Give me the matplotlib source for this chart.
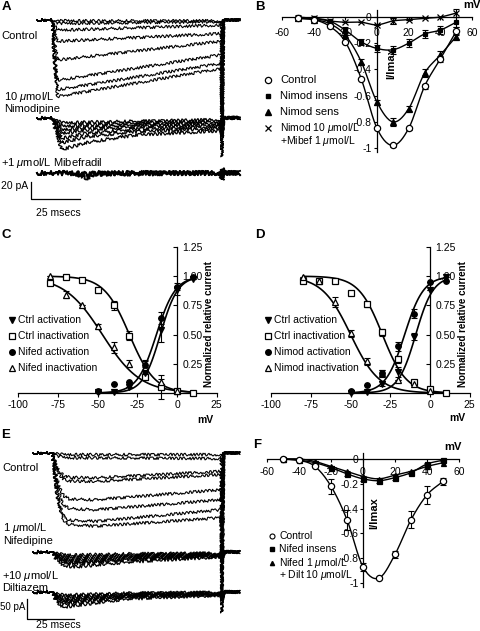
import numpy as np
import matplotlib
matplotlib.use('Agg')
import matplotlib.pyplot as plt
from matplotlib.lines import Line2D

plt.rcParams['font.family'] = ['Liberation Sans', 'DejaVu Sans']
plt.rcParams['mathtext.fontset'] = 'custom'
plt.rcParams['mathtext.rm'] = 'Liberation Sans'
plt.rcParams['mathtext.it'] = 'Liberation Sans:italic'
plt.rcParams['axes.unicode_minus'] = False

# ---------------- data ----------------
# Panel A traces (time ms, current pA)
a_t_ctrl = [0, 7.7, 9.0, 10.5, 94.0, 94.4, 95.2, 103.6]
a_ctrl_traces = [
    [0, 0, -1, -1, -1, -5, 0, 0],
    [0, 0, -2, -4, -2, -20, 0, 0],
    [0, 0, -7, -12, -6, -40, 0, 0],
    [0, 0, -15, -25, -16, -70, 0, 0],
    [0, 0, -28, -47, -25, -100, 0, 0],
    [0, 0, -43, -71, -41, -130, 0, 0],
    [0, 0, -49, -82, -51, -150, 0, 0],
    [0, 0, -54, -90, -57, -161, 0, 0],
]
a_t_nim = [0, 7.7, 9.5, 12.7, 25, 50, 94.0, 94.4, 95.2, 103.6]
a_nim_traces = [
    [0, 0, -2, -6, -5, -4, -2, -22, 0, 0],
    [0, 0, -4, -10, -8, -6, -4, -22, 0, 0],
    [0, 0, -6, -14, -11, -8, -6, -22, 0, 0],
    [0, 0, -7, -18, -14, -10, -8, -22, 0, 0],
    [0, 0, -10, -24, -18, -13, -10, -22, 0, 0],
    [0, 0, -12, -29, -22, -16, -12, -22, 0, 0],
    [0, 0, -15, -37, -29, -20, -15, -22, 0, 0],
]
a_t_mib = [0, 7.7, 20, 25, 30, 94.0, 94.4, 95.0, 103.6]
a_mib_traces = [
    [0, 0, 0, -6, 0, 0, -8, 0, 0],
    [0, 0, 0, -2, 0, 0, 6, 0, 0],
    [0, 0, -1, -1, -1, 0, -3, 0, 0],
]

# Panel B: I-V (mV, I/Imax)
iv_mv = [-50, -40, -30, -20, -10, 0, 10, 20, 30, 40, 50]
b_control = [-0.01, -0.02, -0.07, -0.19, -0.47, -0.85, -0.98, -0.85, -0.53, -0.32, -0.11]
b_control_err = [0, 0, 0, 0, 0, 0, 0.01, 0.01, 0.02, 0.02, 0.03]
b_insens = [0, -0.01, -0.03, -0.10, -0.19, -0.24, -0.25, -0.20, -0.13, -0.10, -0.04]
b_insens_err = [0, 0, 0, 0.02, 0.02, 0.03, 0.03, 0.03, 0.03, 0.03, 0.04]
b_sens = [-0.01, -0.02, -0.05, -0.14, -0.34, -0.65, -0.80, -0.70, -0.43, -0.29, -0.15]
b_sens_err = [0, 0, 0, 0, 0.02, 0.02, 0.03, 0.02, 0.03, 0.03, 0.02]
b_mibef = [-0.01, -0.01, -0.03, -0.04, -0.04, -0.06, -0.03, -0.02, -0.01, 0.0, 0.03]
b_mibef_err = [0, 0, 0, 0, 0, 0, 0.02, 0, 0, 0, 0.03]

# Panels C/D: steady-state activation / inactivation
act_mv = [-50, -40, -30, -20, -10, 0, 10]
inact_mv = [-80, -70, -60, -50, -40, -30, -20, -10, 0, 10]
c_ctrl_act = [0.01, 0.01, 0.05, 0.17, 0.54, 0.88, 0.98]
c_ctrl_act_err = [0, 0, 0, 0.05, 0.10, 0.04, 0]
c_nif_act = [0.02, 0.08, 0.09, 0.24, 0.64, 0.91, 0.99]
c_nif_act_err = [0, 0, 0, 0.04, 0.05, 0.03, 0]
c_ctrl_inact = [0.94, 0.99, 0.97, 0.88, 0.75, 0.49, 0.14, 0.05, 0.02, 0.0]
c_ctrl_inact_err = [0, 0, 0, 0.02, 0.04, 0.04, 0.03, 0.10, 0, 0]
c_nif_inact = [1.0, 0.84, 0.75, 0.57, 0.39, 0.25, 0.21, 0.09, 0.02]
c_nif_inact_err = [0, 0.03, 0, 0.02, 0.05, 0.03, 0.06, 0.03, 0]
# Boltzmann fit parameters (V1/2, k)
c_fit_ctrl_act = (-10.5, 5.5)
c_fit_nif_act = (-13.0, 6.0)
c_fit_ctrl_inact = (-30.0, 8.0)
c_fit_nif_inact = (-47.0, 12.0)

d_ctrl_act = [0.0, 0.01, 0.08, 0.18, 0.48, 0.88, 0.99]
d_ctrl_act_err = [0, 0, 0.02, 0.04, 0.03, 0, 0]
d_nim_act = [0.02, 0.07, 0.17, 0.40, 0.68, 0.95, 0.96]
d_nim_act_err = [0, 0, 0.03, 0.04, 0.04, 0, 0]
d_ctrl_inact = [0.96, 0.96, 0.96, 0.86, 0.76, 0.52, 0.29, 0.09, 0.03, 0.0]
d_ctrl_inact_err = [0, 0, 0, 0, 0.02, 0.03, 0.03, 0.02, 0, 0]
d_nim_inact = [0.99, 0.96, 0.78, 0.51, 0.27, 0.17, 0.11, 0.08, 0.02]
d_nim_inact_err = [0, 0, 0.04, 0.03, 0.03, 0.03, 0, 0, 0]
d_fit_ctrl_act = (-9.0, 5.5)
d_fit_nim_act = (-16.0, 6.0)
d_fit_ctrl_inact = (-30.0, 7.5)
d_fit_nim_inact = (-50.0, 9.0)

# Panel E traces
e_t_ctrl = [0, 10.1, 12.6, 14.4, 16.1, 19.4, 33, 100, 100.5, 101.5, 110]
e_ctrl_traces = [
    [0, 0, -2, -3, -4, -4, -4, -4, -30, 0, 0],
    [0, 0, -7, -9, -11, -12, -12, -14, -60, 0, 0],
    [0, 0, -34, -48, -56, -61, -62, -46, -150, 0, 0],
    [0, 0, -39, -55, -65, -70, -71, -54, -180, 0, 0],
    [0, 0, -64, -90, -106, -115, -117, -92, -250, 0, 0],
    [0, 0, -78, -109, -129, -139, -142, -117, -300, 0, 0],
    [0, 0, -94, -132, -156, -168, -171, -142, -380, 0, 0],
    [0, 0, -101, -141, -167, -179, -183, -162, -400, 0, 0],
]
e_t_nif = [0, 10.1, 12.5, 16, 22, 50, 100, 100.5, 101.5, 110]
e_nif_traces = [
    [0, 0, -4, -7, -8, -5, -3, -20, 0, 0],
    [0, 0, -7, -11, -12, -8, -4, -20, 0, 0],
    [0, 0, -9, -15, -17, -11, -6, -20, 0, 0],
    [0, 0, -12, -19, -21, -14, -7, -20, 0, 0],
    [0, 0, -14, -22, -25, -17, -9, -20, 0, 0],
    [0, 0, -16, -26, -29, -20, -10, -20, 0, 0],
    [0, 0, -20, -33, -37, -25, -12, -20, 0, 0],
]
e_t_dil = [0, 10.1, 12, 14, 17, 50, 100, 100.5, 101.5, 110]
e_dil_traces = [
    [0, 0, -4, -7, -8, -3, -1, -20, 0, 0],
    [0, 0, -7, -11, -12, -5, -2, -20, 0, 0],
    [0, 0, -9, -15, -17, -7, -3, -20, 0, 0],
    [0, 0, -12, -19, -21, -9, -4, -20, 0, 0],
    [0, 0, -14, -22, -25, -11, -5, -20, 0, 0],
    [0, 0, -16, -26, -29, -13, -6, -20, 0, 0],
    [0, 0, -20, -33, -37, -17, -8, -20, 0, 0],
]

# Panel F: I-V
f_control = [0, -0.01, -0.06, -0.22, -0.49, -0.87, -0.96, -0.77, -0.49, -0.29, -0.18]
f_control_err = [0, 0, 0, 0.06, 0.08, 0.03, 0.01, 0.03, 0.07, 0.07, 0.03]
f_insens = [0, -0.01, -0.03, -0.07, -0.12, -0.16, -0.175, -0.15, -0.11, -0.04, -0.01]
f_insens_err = [0, 0, 0, 0, 0.02, 0.02, 0.02, 0.02, 0.01, 0.01, 0.01]
f_dilt = [0, 0, -0.02, -0.06, -0.10, -0.14, -0.16, -0.13, -0.10, -0.06, -0.03]

iv_xticks = [-60, -40, -20, 0, 20, 40, 60]
iv_yticks = [0, -0.2, -0.4, -0.6, -0.8, -1]
iv_yticklabels = ['0', '-0.2', '-0.4', '-0.6', '-0.8', '-1']
ss_xticks = [-100, -75, -50, -25, 0, 25]
ss_yticks = [0.25, 0.5, 0.75, 1.0, 1.25]
ss_yticklabels = ['0.25', '0.50', '0.75', '1.00', '1.25']

# ---------------- helpers ----------------
W, H = 480, 631
fig = plt.figure(figsize=(W / 100, H / 100), dpi=100)
FS = 7.5


def add_ax(l, t, r, b):
    return fig.add_axes([l / W, 1 - b / H, (r - l) / W, (b - t) / H])


def ftext(x, y, s, **kw):
    kw.setdefault('fontsize', FS)
    kw.setdefault('va', 'center')
    fig.text(x / W, 1 - y / H, s, **kw)


def fmark(x, y, **kw):
    fig.add_artist(Line2D([x / W], [1 - y / H], transform=fig.transFigure,
                          linestyle='none', color='black', **kw))


def smooth(x, y, n=16):
    P = np.column_stack([np.asarray(x, float), np.asarray(y, float)])
    P = np.vstack([2 * P[0] - P[1], P, 2 * P[-1] - P[-2]])
    t = np.linspace(0, 1, n, endpoint=False)[:, None]
    out = []
    for i in range(1, len(P) - 2):
        p0, p1, p2, p3 = P[i - 1], P[i], P[i + 1], P[i + 2]
        out.append(0.5 * (2 * p1 + (-p0 + p2) * t + (2 * p0 - 5 * p1 + 4 * p2 - p3) * t ** 2
                          + (-p0 + 3 * p1 - 3 * p2 + p3) * t ** 3))
    out.append(P[-2][None, :])
    S = np.vstack(out)
    return S[:, 0], S[:, 1]


def boltz_act(v, p):
    return 1 / (1 + np.exp((p[0] - v) / p[1]))


def boltz_inact(v, p):
    return 1 / (1 + np.exp((v - p[0]) / p[1]))


def draw_traces(ax, times, traces, offset, lw=0.8, scale=1.4):
    for tr in traces:
        ln, = ax.plot(times, np.asarray(tr, float) + offset, color='black', lw=lw,
                      clip_on=False, solid_joinstyle='round')
        ln.set_sketch_params(scale=scale, length=2.5, randomness=3.0)


def errs(ax, x, y, e):
    ax.errorbar(x, y, yerr=e, fmt='none', ecolor='black', elinewidth=0.8,
                capsize=2, capthick=0.8, clip_on=False, zorder=2)


# ---------------- Panel A ----------------
axA = add_ax(0, 10, 240, 225)
axA.set_xlim((0 - 37) / 1.96, (240 - 37) / 1.96)
axA.set_ylim((20 - 225) / 0.85, (20 - 10) / 0.85)
axA.axis('off')
draw_traces(axA, a_t_ctrl, a_ctrl_traces, 0)
draw_traces(axA, a_t_nim, a_nim_traces, -(118 - 20) / 0.85, lw=0.9, scale=1.6)
draw_traces(axA, a_t_mib, a_mib_traces, -(173 - 20) / 0.85, lw=1.3, scale=2.2)
sbx = (31 - 37) / 1.96
sby = (20 - 199) / 0.85
axA.plot([sbx, sbx, sbx + 25], [sby + 20, sby, sby], color='black', lw=0.9, clip_on=False)
ftext(1, 186, '20 pA', ha='left', fontsize=7.5)
ftext(58, 213, '25 msecs', ha='center', fontsize=7.5)
ftext(2, 7, 'A', fontweight='bold', fontsize=9.5)
ftext(1, 36, 'Control', fontsize=8)
ftext(4, 97, '10 $\\mu$mol/L', fontsize=8)
ftext(4, 109, 'Nimodipine', fontsize=8)
ftext(1, 163, '+1 $\\mu$mol/L Mibefradil', fontsize=8)


# ---------------- Panel B ----------------
def iv_axes(ax, xpad, ylab_pad):
    ax.set_xlim(-60, 60)
    ax.set_ylim(-1.05, 0.1)
    for s in ['top', 'right']:
        ax.spines[s].set_visible(False)
    ax.spines['left'].set_position(('data', 0))
    ax.spines['bottom'].set_position(('data', 0))
    ax.spines['left'].set_bounds(-1.03, 0.05)
    for s in ['left', 'bottom']:
        ax.spines[s].set_linewidth(0.9)
    ax.set_xticks(iv_xticks)
    ax.set_yticks(iv_yticks)
    ax.set_yticklabels(iv_yticklabels)
    ax.tick_params(axis='x', direction='out', length=2, width=0.8, pad=xpad, labelsize=FS)
    ax.tick_params(axis='y', direction='out', length=2, width=0.8, pad=ylab_pad, labelsize=FS)
    ax.patch.set_alpha(0)


axB = add_ax(282, 3.9, 472, 154.6)
iv_axes(axB, 6, 2)
mk = dict(color='black', lw=1.0, clip_on=False)
for yv, ev, m, ms, mfc in [(b_mibef, b_mibef_err, 'x', 4, 'black'),
                           (b_insens, b_insens_err, 's', 3.2, 'black'),
                           (b_sens, b_sens_err, '^', 4.2, 'black'),
                           (b_control, b_control_err, 'o', 4.5, 'white')]:
    sx, sy = smooth(iv_mv, yv)
    axB.plot(sx, sy, **mk)
    errs(axB, iv_mv, yv, ev)
    axB.plot(iv_mv, yv, linestyle='none', marker=m, ms=ms, mfc=mfc, mec='black',
             mew=0.9, clip_on=False, zorder=3)
axB.text(9, -0.35, 'I/Imax', rotation=90, fontsize=8, fontweight='bold',
         ha='center', va='center', transform=axB.transData)
ftext(255, 7, 'B', fontweight='bold', fontsize=9.5)
ftext(472, 5, 'mV', fontweight='bold', fontsize=8, ha='center')
fmark(268, 80, marker='o', ms=4.5, mfc='white', mew=0.9)
fmark(268, 96, marker='s', ms=3.2)
fmark(268, 112, marker='^', ms=4.2)
fmark(268, 128, marker='x', ms=4, mew=0.9)
ftext(280, 80, 'Control', fontsize=8)
ftext(280, 96, 'Nimod insens', fontsize=8)
ftext(280, 112, 'Nimod sens', fontsize=8)
ftext(280, 128, 'Nimod 10 $\\mu$mol/L', fontsize=7.5)
ftext(280, 141, '+Mibef 1 $\\mu$mol/L', fontsize=7.5)


# ---------------- Panels C & D ----------------
def ss_axes(ax):
    ax.set_xlim(-100, 25)
    ax.set_ylim(0, 1.25)
    ax.spines['top'].set_visible(False)
    ax.spines['left'].set_position(('data', 0))
    ax.spines['right'].set_position(('data', 0))
    ax.spines['right'].set_visible(False)
    for s in ['left', 'bottom']:
        ax.spines[s].set_linewidth(0.9)
    ax.set_xticks(ss_xticks)
    ax.set_yticks(ss_yticks)
    ax.set_yticklabels(ss_yticklabels)
    ax.tick_params(axis='x', direction='out', length=3, width=0.8, pad=2, labelsize=FS)
    ax.tick_params(axis='y', direction='out', length=3, width=0.8, pad=1, labelsize=FS,
                   left=True, right=False, labelleft=False, labelright=True)
    ax.patch.set_alpha(0)


def ss_panel(ax, act1, act1e, act2, act2e, in1, in1e, in2, in2e, f1, f2, f3, f4):
    va = np.linspace(-50, 10, 80)
    vi = np.linspace(-80, 10, 100)
    ax.plot(va, boltz_act(va, f1), color='black', lw=1.2, clip_on=False)
    ax.plot(va, boltz_act(va, f2), color='black', lw=1.2, clip_on=False)
    ax.plot(vi, boltz_inact(vi, f3), color='black', lw=1.2, clip_on=False)
    ax.plot(vi, boltz_inact(vi, f4), color='black', lw=1.2, clip_on=False)
    errs(ax, act_mv, act1, act1e)
    errs(ax, act_mv, act2, act2e)
    errs(ax, inact_mv, in1, in1e)
    errs(ax, inact_mv[:len(in2)], in2, in2e)
    kw = dict(linestyle='none', mec='black', mew=0.9, clip_on=False, zorder=3)
    ax.plot(inact_mv, in1, marker='s', ms=4.5, mfc='white', **kw)
    ax.plot(inact_mv[:len(in2)], in2, marker='^', ms=4.5, mfc='white', **kw)
    ax.plot(act_mv, act2, marker='o', ms=4, mfc='black', **kw)
    ax.plot(act_mv, act1, marker='v', ms=4.2, mfc='black', **kw)


axC = add_ax(18.3, 247, 216.7, 393)
ss_axes(axC)
ss_panel(axC, c_ctrl_act, c_ctrl_act_err, c_nif_act, c_nif_act_err,
         c_ctrl_inact, c_ctrl_inact_err, c_nif_inact, c_nif_inact_err,
         c_fit_ctrl_act, c_fit_nif_act, c_fit_ctrl_inact, c_fit_nif_inact)
axD = add_ax(271.3, 247, 469.7, 393)
ss_axes(axD)
ss_panel(axD, d_ctrl_act, d_ctrl_act_err, d_nim_act, d_nim_act_err,
         d_ctrl_inact, d_ctrl_inact_err, d_nim_inact, d_nim_inact_err,
         d_fit_ctrl_act, d_fit_nim_act, d_fit_ctrl_inact, d_fit_nim_inact)

ftext(1, 235, 'C', fontweight='bold', fontsize=9.5)
ftext(255, 235, 'D', fontweight='bold', fontsize=9.5)
ftext(209, 324, 'Normalized relative current', rotation=90, fontweight='bold',
      fontsize=7, ha='center')
ftext(463, 324, 'Normalized relative current', rotation=90, fontweight='bold',
      fontsize=7, ha='center')
ftext(205, 420, 'mV', fontweight='bold', fontsize=7.5, ha='center')
ftext(457, 418, 'mV', fontweight='bold', fontsize=7.5, ha='center')
for x0, lab in [(12, ['Ctrl activation', 'Ctrl inactivation', 'Nifed activation', 'Nifed inactivation']),
                (268, ['Ctrl activation', 'Ctrl inactivation', 'Nimod activation', 'Nimod inactivation'])]:
    ys = [320, 336, 352, 368]
    fmark(x0, ys[0], marker='v', ms=4)
    fmark(x0, ys[1], marker='s', ms=4.5, mfc='white', mew=0.9)
    fmark(x0, ys[2], marker='o', ms=4)
    fmark(x0, ys[3], marker='^', ms=4.5, mfc='white', mew=0.9)
    for y, s in zip(ys, lab):
        ftext(x0 + 6, y, s, fontsize=7.5)

# ---------------- Panel E ----------------
axE = add_ax(0, 425, 240, 631)
axE.set_xlim((0 - 33) / 1.88, (240 - 33) / 1.88)
axE.set_ylim((453 - 631) / 0.4, (453 - 425) / 0.4)
axE.axis('off')
draw_traces(axE, e_t_ctrl, e_ctrl_traces, 0)
draw_traces(axE, e_t_nif, e_nif_traces, -(552 - 453) / 0.4, lw=0.9, scale=1.6)
draw_traces(axE, e_t_dil, e_dil_traces, -(592 - 453) / 0.4, lw=0.9, scale=1.6)
sbx = (27 - 33) / 1.88
sby = (453 - 619) / 0.4
axE.plot([sbx, sbx, sbx + 25], [sby + 50, sby, sby], color='black', lw=0.9, clip_on=False)
ftext(0.5, 607, '50 pA', ha='left', fontsize=7)
ftext(58, 625, '25 msecs', ha='center', fontsize=7.5)
ftext(1, 435, 'E', fontweight='bold', fontsize=9.5)
ftext(2, 468, 'Control', fontsize=8)
ftext(3, 528, '1 $\\mu$mol/L', fontsize=8)
ftext(3, 541, 'Nifedipine', fontsize=8)
ftext(2, 576, '+10 $\\mu$mol/L', fontsize=8)
ftext(2, 588, 'Diltiazem', fontsize=8)

# ---------------- Panel F ----------------
axF = add_ax(267, 446.6, 459, 589.2)
iv_axes(axF, 4, 1)
for yv, ev, m, ms, mfc in [(f_dilt, None, '^', 3.6, 'black'),
                           (f_insens, f_insens_err, 's', 3.6, 'black'),
                           (f_control, f_control_err, 'o', 4.5, 'white')]:
    sx, sy = smooth(iv_mv, yv)
    axF.plot(sx, sy, **mk)
    if ev is not None:
        errs(axF, iv_mv, yv, ev)
    axF.plot(iv_mv, yv, linestyle='none', marker=m, ms=ms, mfc=mfc, mec='black',
             mew=0.9, clip_on=False, zorder=3)
axF.text(7, -0.44, 'I/Imax', rotation=90, fontsize=8, fontweight='bold',
         ha='center', va='center', transform=axF.transData)
ftext(253, 445, 'F', fontweight='bold', fontsize=9.5)
ftext(453, 447, 'mV', fontweight='bold', fontsize=8, ha='center')
fmark(272, 536, marker='o', ms=3.6, mfc='white', mew=0.8)
fmark(272, 549, marker='s', ms=2.8)
fmark(272, 563, marker='^', ms=3.0)
ftext(279, 536, 'Control', fontsize=7.5)
ftext(279, 549, 'Nifed insens', fontsize=7.5)
ftext(279, 563, 'Nifed 1 $\\mu$mol/L', fontsize=7.5)
ftext(279, 575, '+ Dilt 10 $\\mu$mol/L', fontsize=7.5)

fig.savefig('out.png', dpi=100)
